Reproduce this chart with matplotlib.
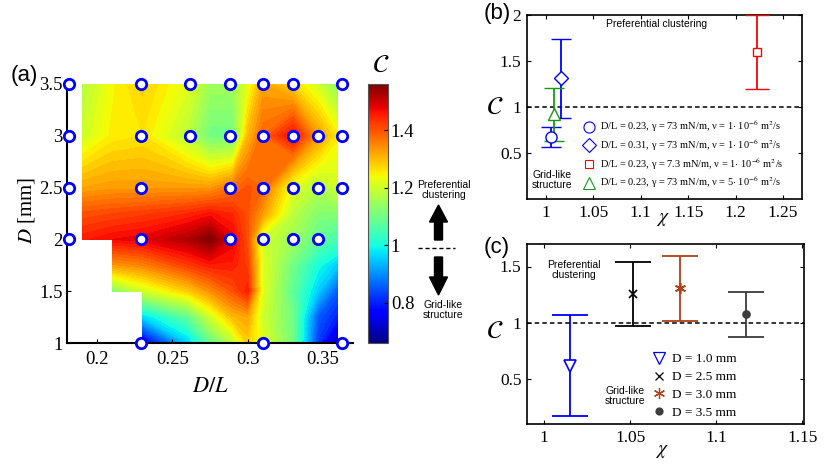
import numpy as np
import matplotlib
matplotlib.use('Agg')
import matplotlib.pyplot as plt
from matplotlib.lines import Line2D
from matplotlib.patches import FancyArrow
from matplotlib.colors import Normalize
from matplotlib.cm import ScalarMappable
from matplotlib.ticker import FormatStrFormatter

plt.rcParams['font.family'] = ['Liberation Serif', 'DejaVu Serif']
plt.rcParams['mathtext.fontset'] = 'stix'

# ---- (a) map of C over D/L and D ----
nan = np.nan
dl_nodes = [0.19, 0.21, 0.23, 0.26, 0.275, 0.29, 0.30, 0.31, 0.33, 0.347, 0.36]
d_nodes = [1.0, 1.25, 1.5, 1.75, 2.0, 2.25, 2.5, 3.0, 3.5]
c_field = [
    [nan, nan, 0.74, 0.95, 1.08, 1.18, 1.28, 1.22, 1.10, 0.82, 0.68],
    [nan, nan, 0.96, 1.08, 1.20, 1.30, 1.32, 1.20, 1.10, 0.85, 0.80],
    [nan, 1.12, 1.20, 1.28, 1.34, 1.40, 1.45, 1.22, 1.08, 0.95, 0.85],
    [nan, 1.33, 1.35, 1.42, 1.45, 1.45, 1.42, 1.22, 1.10, 1.00, 0.95],
    [1.45, 1.47, 1.48, 1.52, 1.56, 1.48, 1.40, 1.20, 1.15, 1.08, 1.05],
    [1.40, 1.41, 1.42, 1.44, 1.46, 1.44, 1.40, 1.33, 1.18, 1.12, 1.12],
    [1.32, 1.33, 1.33, 1.33, 1.33, 1.37, 1.40, 1.38, 1.22, 1.17, 1.20],
    [1.20, 1.25, 1.26, 1.18, 1.10, 1.10, 1.30, 1.38, 1.47, 1.33, 1.25],
    [1.17, 1.24, 1.28, 1.22, 1.15, 1.15, 1.22, 1.32, 1.27, 1.20, 1.13],
]
c_min, c_max = 0.66, 1.56

# measurement points
pts_dl = [0.181, 0.229, 0.262, 0.288, 0.310, 0.330, 0.363,
          0.181, 0.229, 0.262, 0.288, 0.310, 0.330, 0.347, 0.363,
          0.181, 0.229, 0.288, 0.310, 0.330, 0.347, 0.363,
          0.181, 0.229, 0.288, 0.310, 0.330, 0.347,
          0.229, 0.310, 0.363]
pts_d = [3.5] * 7 + [3.0] * 8 + [2.5] * 7 + [2.0] * 6 + [1.0] * 3

# ---- (b) ----
b_chi = [1.005, 1.016, 1.223, 1.008]
b_c = [0.67, 1.31, 1.60, 0.92]
b_err = [0.11, 0.43, 0.40, 0.285]
b_labels = [r'D/L = 0.23, γ = 73 mN/m, ν = 1$\cdot$ 10$^{-6}$ m$^2$/s',
            r'D/L = 0.31, γ = 73 mN/m, ν = 1$\cdot$ 10$^{-6}$ m$^2$/s',
            r'D/L = 0.23, γ = 7.3 mN/m, ν = 1$\cdot$ 10$^{-6}$ m$^2$/s',
            r'D/L = 0.23, γ = 73 mN/m, ν = 5$\cdot$ 10$^{-6}$ m$^2$/s']
b_markers = ['o', 'D', 's', '^']
b_colors = ['#0000ff', '#0000ff', '#ff0000', '#169a16']
b_ms = [8, 7, 6, 8]
b_caps = [7.5, 7.5, 8.5, 7.5]

# ---- (c) ----
c_chi = [1.015, 1.0516, 1.079, 1.117]
c_c = [0.62, 1.255, 1.305, 1.075]
c_err = [0.445, 0.285, 0.285, 0.20]
c_labels = ['D = 1.0 mm', 'D = 2.5 mm', 'D = 3.0 mm', 'D = 3.5 mm']
c_markers = ['v', 'x', (6, 2, 0), 'o']
c_colors = ['#0000ff', '#000000', '#b0401a', '#3c3c3c']
c_mfc = ['white', 'none', 'none', '#3c3c3c']
c_ms = [9, 6, 8, 5]

W, H = 830, 467
fig = plt.figure(figsize=(W / 100, H / 100), dpi=100)


def box(l, t, r, b):
    return [l / W, (H - b) / H, (r - l) / W, (b - t) / H]


# (a)
ax = fig.add_axes(box(67, 84, 353, 343))
Z = np.array(c_field)
X = np.array(dl_nodes)
Y = np.array(d_nodes)
levels = np.linspace(c_min, c_max, 61)
# the measured area is a staircase: draw it as three rectangular blocks
for d_lo, d_hi, x_lo in [(2.0, 3.5, 0.19), (1.5, 2.0, 0.21), (1.0, 1.5, 0.23)]:
    rows = (Y >= d_lo) & (Y <= d_hi)
    cols = X >= x_lo
    ax.contourf(X[cols], Y[rows], Z[np.ix_(rows, cols)], levels=levels, cmap='jet', extend='both')
ax.plot(pts_dl, pts_d, 'o', ms=7.5, mfc='white', mec='#0000ff', mew=2, clip_on=False, zorder=5)
ax.set_xlim(0.18, 0.37)
ax.set_ylim(1, 3.5)
ax.set_xticks([0.2, 0.25, 0.3, 0.35])
ax.set_yticks([1, 1.5, 2, 2.5, 3, 3.5])
ax.xaxis.set_major_formatter(FormatStrFormatter('%g'))
ax.yaxis.set_major_formatter(FormatStrFormatter('%g'))
ax.tick_params(direction='in', length=3, labelsize=13.5, pad=3)
ax.tick_params(axis='x', pad=6)
for s in ['top', 'right']:
    ax.spines[s].set_visible(False)
for s in ['left', 'bottom']:
    ax.spines[s].set_linewidth(1.5)

cax = fig.add_axes(box(368, 84, 388, 343))
cb = fig.colorbar(ScalarMappable(Normalize(c_min, c_max), cmap='jet'), cax=cax,
                  ticks=[0.8, 1, 1.2, 1.4])
cb.ax.set_yticklabels(['0.8', '1', '1.2', '1.4'])
cb.ax.tick_params(direction='in', length=3, labelsize=13.5, pad=2)
cb.outline.set_edgecolor('#555555')

# (b)
axb = fig.add_axes(box(527, 15, 802, 199))
for x, y, e, m, col, ms, cs in zip(b_chi, b_c, b_err, b_markers, b_colors, b_ms, b_caps):
    axb.errorbar(x, y, yerr=e, fmt=m, color=col, mfc='white', mec=col, ms=ms,
                 capsize=cs, elinewidth=1.3, capthick=1.3, mew=1.0, zorder=3)
axb.axhline(1, color='black', ls='--', lw=1.1, dashes=(3, 2))
axb.set_xlim(0.98, 1.27)
axb.set_ylim(0, 2)
axb.set_xticks([1, 1.05, 1.1, 1.15, 1.2, 1.25])
axb.set_yticks([0.5, 1, 1.5, 2])
handles = [Line2D([], [], ls='none', marker=m, mfc='none', mec=c, ms=ms, mew=0.8)
           for m, c, ms in zip(b_markers, b_colors, b_ms)]
axb.legend(handles, b_labels, loc='upper left', bbox_to_anchor=(0.185, 0.465), frameon=False,
           fontsize=7.5, handlelength=1.2, handletextpad=0.4, labelspacing=0.3, borderpad=0)

# (c)
axc = fig.add_axes(box(527, 244, 804, 424))
for x, y, e, m, col, mfc, ms in zip(c_chi, c_c, c_err, c_markers, c_colors, c_mfc, c_ms):
    axc.errorbar(x, y, yerr=e, fmt='none', ecolor=col, capsize=13, elinewidth=1.3, capthick=1.3, zorder=2)
    axc.plot(x, y, ls='none', marker=m, color=col, mfc=mfc, mec=col, ms=ms, mew=1.2, zorder=3)
axc.axhline(1, color='black', ls='--', lw=1.1, dashes=(3, 2))
axc.set_xlim(0.99, 1.151)
axc.set_ylim(0.1, 1.7)
axc.set_xticks([1, 1.05, 1.1, 1.15])
axc.set_yticks([0.5, 1, 1.5])
handles = [Line2D([], [], ls='none', marker=m, mfc=mf, mec=c, color=c, ms=ms, mew=0.9)
           for m, c, mf, ms in zip(c_markers, c_colors, c_mfc, c_ms)]
axc.legend(handles, c_labels, loc='upper left', bbox_to_anchor=(0.43, 0.43), frameon=False,
           fontsize=9.5, handlelength=1.0, handletextpad=0.5, labelspacing=0.42, borderpad=0)

for a in (axb, axc):
    a.xaxis.set_major_formatter(FormatStrFormatter('%g'))
    a.yaxis.set_major_formatter(FormatStrFormatter('%g'))
    a.tick_params(direction='in', length=3, labelsize=12.5, top=True, right=True, pad=4)
    for s in a.spines.values():
        s.set_linewidth(1.2)

# overlay for labels and annotations, in pixel coordinates
ov = fig.add_axes([0, 0, 1, 1])
ov.set_xlim(0, W)
ov.set_ylim(H, 0)
ov.axis('off')
ov.patch.set_visible(False)

sans = ['Liberation Sans', 'DejaVu Sans']
ov.text(24, 75, '(a)', family=sans, fontsize=16, ha='center', va='center')
ov.text(497, 13, '(b)', family=sans, fontsize=16, ha='center', va='center')
ov.text(497, 248, '(c)', family=sans, fontsize=16, ha='center', va='center')

ov.text(26, 210, r'$D$ [mm]', fontsize=15, rotation=90, ha='center', va='center')
ov.text(210, 388, r'$D/L$', fontsize=16, ha='center', va='center')
ov.text(381, 66, r'$\mathcal{C}$', fontsize=19, ha='center', va='center')
ov.text(495, 108, r'$\mathcal{C}$', fontsize=19, ha='center', va='center')
ov.text(495, 332, r'$\mathcal{C}$', fontsize=19, ha='center', va='center')
ov.text(663, 219, r'$\chi$', fontsize=14, ha='center', va='center')
ov.text(662, 451, r'$\chi$', fontsize=14, ha='center', va='center')

ov.text(444, 190, 'Preferential\nclustering', family=sans, fontsize=7.5, ha='center', va='center',
        linespacing=1.1)
ov.text(443, 310, 'Grid-like\nstructure', family=sans, fontsize=7.5, ha='center', va='center',
        linespacing=1.1)
ov.add_patch(FancyArrow(438.5, 240, 0, -35, width=8, head_width=18, head_length=17,
                        length_includes_head=True, color='black'))
ov.add_patch(FancyArrow(438.5, 257, 0, 38, width=8, head_width=18, head_length=18,
                        length_includes_head=True, color='black'))
ov.plot([418, 455], [248, 248], color='black', ls='--', lw=1, dashes=(3, 2))

ov.text(657, 24, 'Preferential clustering', family=sans, fontsize=7.5, ha='center', va='center')
ov.text(552, 180, 'Grid-like\nstructure', family=sans, fontsize=7.5, ha='center', va='center',
        linespacing=1.1)
ov.text(574, 270, 'Preferential\nclustering', family=sans, fontsize=7.5, ha='center', va='center',
        linespacing=1.1)
ov.text(625, 396, 'Grid-like\nstructure', family=sans, fontsize=7.5, ha='center', va='center',
        linespacing=1.1)

fig.savefig('out.png', dpi=100)
